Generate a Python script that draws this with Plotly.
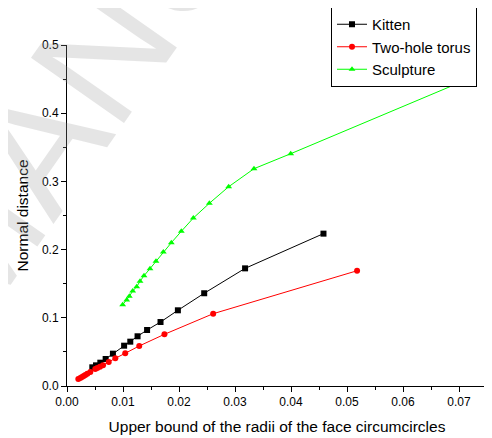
import plotly.graph_objects as go

# ---- data ----
kitten_x = [0.00452, 0.00518, 0.00595, 0.0069, 0.0082, 0.0102, 0.0113, 0.0126,
            0.0143, 0.0167, 0.0198, 0.0245, 0.0318, 0.0458]
kitten_y = [0.0274, 0.0303, 0.0342, 0.0396, 0.0474, 0.0591, 0.065, 0.0729,
            0.0821, 0.0938, 0.111, 0.136, 0.1725, 0.2234]

torus_x = [0.00202, 0.00238, 0.00268, 0.00298, 0.00327, 0.00363, 0.00416, 0.00505,
           0.00541, 0.00589, 0.00643, 0.00745, 0.00863, 0.0104, 0.0129, 0.0174,
           0.0261, 0.0518]
torus_y = [0.0103, 0.0117, 0.0132, 0.0147, 0.0161, 0.018, 0.0205, 0.0249,
           0.0264, 0.0283, 0.0304, 0.0352, 0.0406, 0.048, 0.0587, 0.0758,
           0.106, 0.169]

sculpt_x = [0.00994, 0.01066, 0.01113, 0.01173, 0.01245, 0.01304, 0.01375, 0.01482,
            0.01589, 0.0172, 0.01863, 0.02041, 0.02256, 0.02542, 0.02887, 0.03339,
            0.03995, 0.06995]
sculpt_y = [0.1192, 0.1261, 0.1315, 0.1393, 0.1456, 0.1535, 0.1617, 0.172,
            0.1828, 0.1965, 0.2101, 0.2268, 0.2463, 0.2679, 0.2922, 0.3186,
            0.3406, 0.4443]

series_names = ["Kitten", "Two-hole torus", "Sculpture"]
x_tick_vals = [0.00, 0.01, 0.02, 0.03, 0.04, 0.05, 0.06, 0.07]
x_tick_text = ["0.00", "0.01", "0.02", "0.03", "0.04", "0.05", "0.06", "0.07"]
y_tick_vals = [0.0, 0.1, 0.2, 0.3, 0.4, 0.5]
y_tick_text = ["0.0", "0.1", "0.2", "0.3", "0.4", "0.5"]
watermark_text = "MANU"

FONT = "Liberation Sans, Arial, sans-serif"

# the page body has an 8px default margin, so the figure is 8px smaller
W, H = 484, 430
L, T = 59, 37
PW, PH = 420, 341

fig = go.Figure()
fig.add_trace(go.Scatter(x=kitten_x, y=kitten_y, name=series_names[0],
                         mode="lines+markers",
                         line=dict(color="#000000", width=1),
                         marker=dict(symbol="square", size=6, color="#000000")))
fig.add_trace(go.Scatter(x=torus_x, y=torus_y, name=series_names[1],
                         mode="lines+markers",
                         line=dict(color="#ff0000", width=1),
                         marker=dict(symbol="circle", size=6, color="#ff0000")))
fig.add_trace(go.Scatter(x=sculpt_x, y=sculpt_y, name=series_names[2],
                         mode="lines+markers",
                         line=dict(color="#00ff00", width=1),
                         marker=dict(symbol="triangle-up", size=6, color="#00ff00")))

fig.update_layout(
    width=W, height=H,
    margin=dict(l=L, r=W - L - PW, t=T, b=H - T - PH, autoexpand=False),
    paper_bgcolor="white", plot_bgcolor="white",
    font=dict(family=FONT, size=12, color="#000000"),
    showlegend=True,
    legend=dict(x=(323 - L) / PW, y=(T + PH + 1) / PH, xanchor="left", yanchor="top",
                bordercolor="#000000", borderwidth=1, bgcolor="white",
                font=dict(family=FONT, size=15, color="#000000"),
                tracegroupgap=0, itemwidth=30),
    annotations=[dict(text=watermark_text, xref="paper", yref="paper",
                      x=(59 - L) / PW, y=(T + PH - 97) / PH,
                      xanchor="center", yanchor="middle",
                      showarrow=False, textangle=-55,
                      font=dict(family=FONT, size=165, color="rgba(150,150,150,0.25)"))],
)

fig.update_xaxes(range=[0, 0.075], tickvals=x_tick_vals, ticktext=x_tick_text,
                 showgrid=False, zeroline=False, showline=True, linecolor="#000000",
                 linewidth=1, ticks="outside", ticklen=5, tickcolor="#000000",
                 minor=dict(dtick=0.005, ticks="outside", ticklen=3, tickcolor="#000000"),
                 title=dict(text="Upper bound of the radii of the face circumcircles",
                            font=dict(size=15.5), standoff=12),
                 tickfont=dict(size=12), automargin=False)
fig.update_yaxes(range=[0, 0.5], tickvals=y_tick_vals, ticktext=y_tick_text,
                 showgrid=False, zeroline=False, showline=True, linecolor="#000000",
                 linewidth=1, ticks="outside", ticklen=5, tickcolor="#000000",
                 minor=dict(dtick=0.05, ticks="outside", ticklen=3, tickcolor="#000000"),
                 title=dict(text="Normal distance", font=dict(size=15.5), standoff=9),
                 tickfont=dict(size=12), automargin=False)

fig.write_html("out.html")
